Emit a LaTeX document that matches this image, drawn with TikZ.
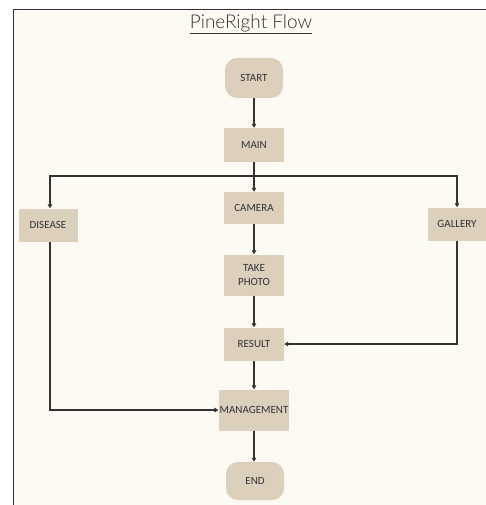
\documentclass[tikz,border=0pt]{standalone}
\usepackage{fontspec}
\setmainfont{Carlito}
\newfontfamily\titlefont{Lato Light}
\usetikzlibrary{arrows.meta,positioning}
\definecolor{paper}{HTML}{FDFAF3}
\definecolor{boxfill}{HTML}{DCCFBC}
\definecolor{ink}{HTML}{333333}
\tikzset{
  box/.style={fill=boxfill,text=ink,font=\fontsize{11}{13.5}\selectfont,align=center,
    minimum width=60pt,minimum height=34pt,inner sep=1pt},
  term/.style={box,rounded corners=12pt,minimum width=58pt,minimum height=40pt},
  flow/.style={draw=ink,line width=1.5pt,-{Triangle[length=4pt,width=4.5pt]}}
}
\begin{document}
\begin{tikzpicture}[x=1pt,y=-1pt]
\useasboundingbox (0,0) rectangle (486,505);
\fill[white] (0,0) rectangle (486,505);
\fill[paper] (13,9) rectangle (486,505);
\draw[ink,line width=0.8pt] (13,505) -- (13,9) -- (486,9);

% title
\node[ink,font=\titlefont\fontsize{19}{22}\selectfont] (title) at (251,24)
  {\underline{PineRight Flow}};

% main column
\node[term] (start) at (254,78) {START};
\node[box] (main) at (254,145) {MAIN};
\node[box,minimum height=32pt] (camera) at (254,208) {CAMERA};
\node[box,minimum height=41pt] (take) at (254,275) {TAKE\\PHOTO};
\node[box,minimum height=33pt] (result) at (254,344) {RESULT};
\node[box,minimum width=70pt,minimum height=41pt] (manage) at (254,410) {MANAGEMENT};
\node[term,minimum height=38pt] (end) at (255,481) {END};

% side branches
\node[box,minimum width=59pt,minimum height=33pt] (disease) at (48,225) {DISEASE};
\node[box,minimum width=59pt,minimum height=33pt] (gallery) at (457,224) {GALLERY};
\coordinate (split) at (254,176);

\draw[flow] (start) -- (main);
\draw[flow] (main) -- (camera);
\draw[flow] (split) -| ([xshift=2pt]disease.north);
\draw[flow] (split) -| (gallery.north);
\draw[flow] (camera) -- (take);
\draw[flow] (take) -- (result);
\draw[flow] (gallery.south) |- (result.east);
\draw[flow] (result) -- (manage);
\draw[flow] ([xshift=2pt]disease.south) |- (manage.west);
\draw[flow] (manage.south) -- (manage.south |- end.north);
\end{tikzpicture}
\end{document}
